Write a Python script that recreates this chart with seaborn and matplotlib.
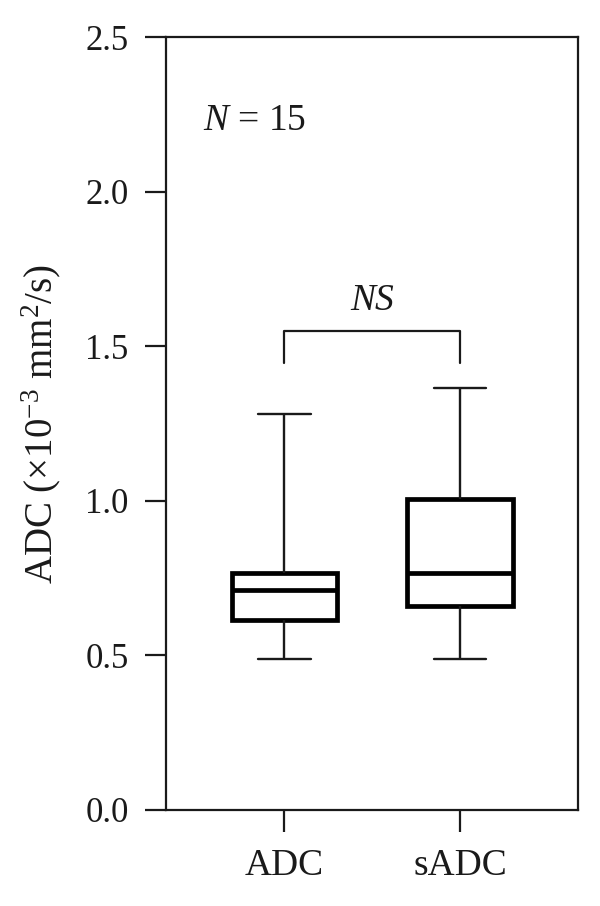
import pandas as pd
import seaborn as sns
import matplotlib.pyplot as plt

# Five-number summaries: min, q1, median, q3, max
groups = ['ADC', 'sADC']
adc_stats = [0.487, 0.616, 0.710, 0.768, 1.281]
sadc_stats = [0.487, 0.661, 0.765, 1.007, 1.365]
y_ticks = [0.0, 0.5, 1.0, 1.5, 2.0, 2.5]
y_label = r'ADC (×10$^{-3}$ mm$^{2}$/s)'
n_label = r'$N$ = 15'
sig_label = 'NS'
bracket_top = 1.55
bracket_foot = 1.447

df = pd.DataFrame({
    'method': [groups[0]] * len(adc_stats) + [groups[1]] * len(sadc_stats),
    'value': adc_stats + sadc_stats,
})

sns.set_style('ticks')
plt.rcParams['font.family'] = ['Liberation Serif', 'DejaVu Serif']
plt.rcParams['mathtext.fontset'] = 'custom'
plt.rcParams['mathtext.rm'] = 'Liberation Serif'
plt.rcParams['mathtext.it'] = 'Liberation Serif:italic'

fig = plt.figure(figsize=(6, 9.06), dpi=100)
ax = fig.add_axes([0.2767, 0.106, 0.6866, 0.853])

sns.boxplot(data=df, x='method', y='value', whis=(0, 100), width=0.6,
            color='white', linecolor='black', saturation=1, linewidth=3.4,
            fliersize=0,
            whiskerprops=dict(linewidth=1.7, color='#1a1a1a'),
            capprops=dict(linewidth=1.7, color='#1a1a1a'),
            medianprops=dict(linewidth=3.4, color='black'),
            ax=ax)

# significance bracket between the two groups
pos = list(range(len(groups)))
ax.plot([pos[0], pos[0], pos[1], pos[1]],
        [bracket_foot, bracket_top, bracket_top, bracket_foot],
        color='#1a1a1a', linewidth=1.6)
ax.text((pos[0] + pos[1]) / 2, bracket_top + 0.04, sig_label,
        ha='center', va='bottom', fontsize=27, style='italic', color='#1a1a1a')
ax.text(-0.46, 2.23, n_label, ha='left', va='center', fontsize=27, color='#1a1a1a')

ax.set_xlim(-0.673, 1.672)
ax.set_ylim(0, 2.5)
ax.set_yticks(y_ticks)
ax.set_yticklabels([f'{t:.1f}' for t in y_ticks])
ax.set_xlabel('')
ax.set_ylabel(y_label, fontsize=28, labelpad=16, color='#1a1a1a')

for s in ax.spines.values():
    s.set_visible(True)
    s.set_linewidth(1.6)
    s.set_color('#1a1a1a')
ax.tick_params(axis='y', length=15, width=1.6, pad=12, labelsize=25,
               color='#1a1a1a', labelcolor='#1a1a1a')
ax.tick_params(axis='x', length=16, width=1.6, pad=12, labelsize=27,
               color='#1a1a1a', labelcolor='#1a1a1a')

plt.savefig('out.png', dpi=100)
